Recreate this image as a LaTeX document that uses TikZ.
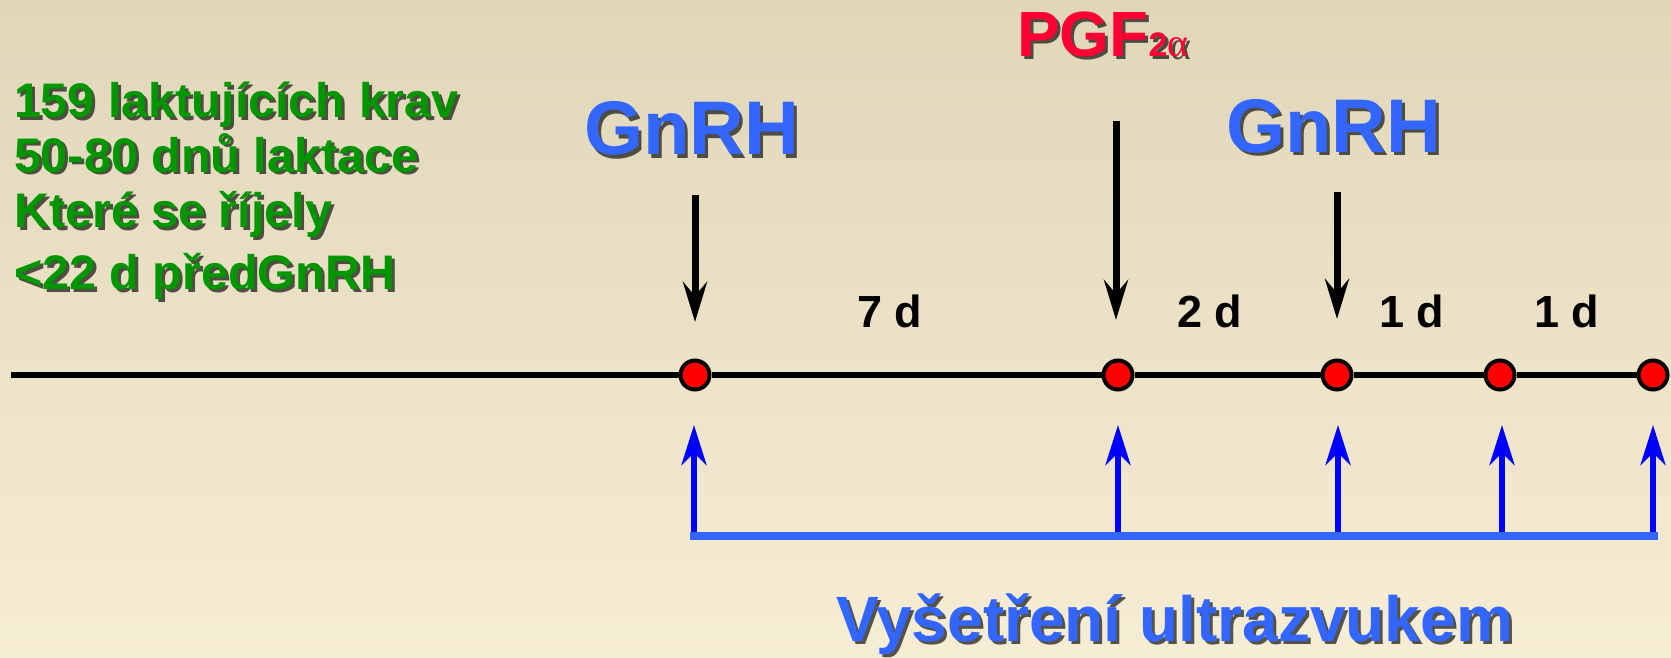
\documentclass[tikz,border=0pt]{standalone}
\usepackage{fontspec}
\setmainfont{Liberation Sans}
\newfontfamily\greekserif{Liberation Serif}
\usetikzlibrary{arrows.meta,calc}
\definecolor{bgtop}{RGB}{224,214,184}
\definecolor{bgbot}{RGB}{246,237,213}
\definecolor{txtgreen}{RGB}{0,150,0}
\definecolor{txtblue}{RGB}{51,102,255}
\definecolor{txtred}{RGB}{255,0,51}
\definecolor{arrowblue}{RGB}{0,0,255}
\definecolor{barblue}{RGB}{51,102,255}
\definecolor{dotred}{RGB}{255,0,0}
\newcommand\shnode[4]{%
  \node[#1, text=black, text opacity=0.65] at ($#3+(3,3)$) {#4};
  \node[#1] (#2) at #3 {#4};}
\begin{document}
\begin{tikzpicture}[x=1pt,y=-1pt,
  lbl/.style={inner sep=0pt, outer sep=0pt},
  greenline/.style={lbl, anchor=base west, text=txtgreen, font=\bfseries\fontsize{48.5}{55}\selectfont},
  gnrhlbl/.style={lbl, anchor=base, text=txtblue, font=\bfseries\fontsize{76}{76}\selectfont},
  pgflbl/.style={lbl, anchor=base west, text=txtred, font=\bfseries\fontsize{64}{64}\selectfont},
  uslbl/.style={lbl, anchor=base west, text=txtblue, font=\bfseries\fontsize{64}{64}\selectfont},
  daylbl/.style={lbl, anchor=base, text=black, font=\bfseries\fontsize{45}{45}\selectfont},
  dot/.style={circle, draw=black, line width=4pt, fill=dotred, minimum size=29pt, inner sep=0pt},
  timeline/.style={line width=6pt, black},
  downarrow/.style={line width=7pt, black, -{Stealth[length=40pt,width=24pt,inset=14pt]}},
  uparrow/.style={line width=6pt, arrowblue, -{Stealth[length=40pt,width=25pt,inset=12pt]}},
  bar/.style={line width=8pt, barblue}
]
\shade[top color=bgtop, bottom color=bgbot] (0,0) rectangle (1671,658);
\useasboundingbox (0,0) rectangle (1671,658);

% left green text
\shnode{greenline}{g1}{(14,118)}{159 laktujících krav}
\shnode{greenline}{g2}{(14,172)}{50-80 dnů laktace}
\shnode{greenline}{g3}{(14,227)}{Které se říjely}
\shnode{greenline}{g4}{(14,289)}{<22 d předGnRH}

% top labels
\shnode{gnrhlbl}{gnrh1}{(692,155)}{GnRH}
\shnode{gnrhlbl}{gnrh2}{(1334,153)}{GnRH}
\shnode{pgflbl}{pgf}{(1017,57)}{PGF{\fontsize{34}{34}\selectfont 2{\greekserif\mdseries\fontsize{40}{40}\selectfont α}}}

% day labels
\node[daylbl] (d7) at (890,327) {7 d};
\node[daylbl] (d2) at (1210,327) {2 d};
\node[daylbl] (d1a) at (1412,327) {1 d};
\node[daylbl] (d1b) at (1567,327) {1 d};

% dots on timeline
\node[dot] (p1) at (695,375) {};
\node[dot] (p2) at (1118,375) {};
\node[dot] (p3) at (1337,375) {};
\node[dot] (p4) at (1500,375) {};
\node[dot] (p5) at (1653,375) {};
\coordinate (tlstart) at (11,375);
\draw[timeline] (tlstart) -- (p1) (p1) -- (p2) (p2) -- (p3) (p3) -- (p4) (p4) -- (p5);

% black arrows
\coordinate (k1s) at (695,195); \coordinate (k1e) at (695,322);
\coordinate (k2s) at (1116,121); \coordinate (k2e) at (1116,320);
\coordinate (k3s) at (1337,192); \coordinate (k3e) at (1337,319);
\draw[downarrow] (k1s) -- (k1e);
\draw[downarrow] (k2s) -- (k2e);
\draw[downarrow] (k3s) -- (k3e);

% blue arrows and bar
\coordinate (barL) at (690,536); \coordinate (barR) at (1658,536);
\foreach \i/\x in {1/694,2/1118,3/1338,4/1502,5/1653}{
  \coordinate (b\i) at (\x,533);
  \coordinate (u\i) at (\x,425);
  \draw[uparrow] (b\i) -- (u\i);
}
\draw[bar] (barL) -- (barR);

% bottom label
\shnode{uslbl}{us}{(836,641)}{Vyšetření ultrazvukem}
\end{tikzpicture}
\end{document}
